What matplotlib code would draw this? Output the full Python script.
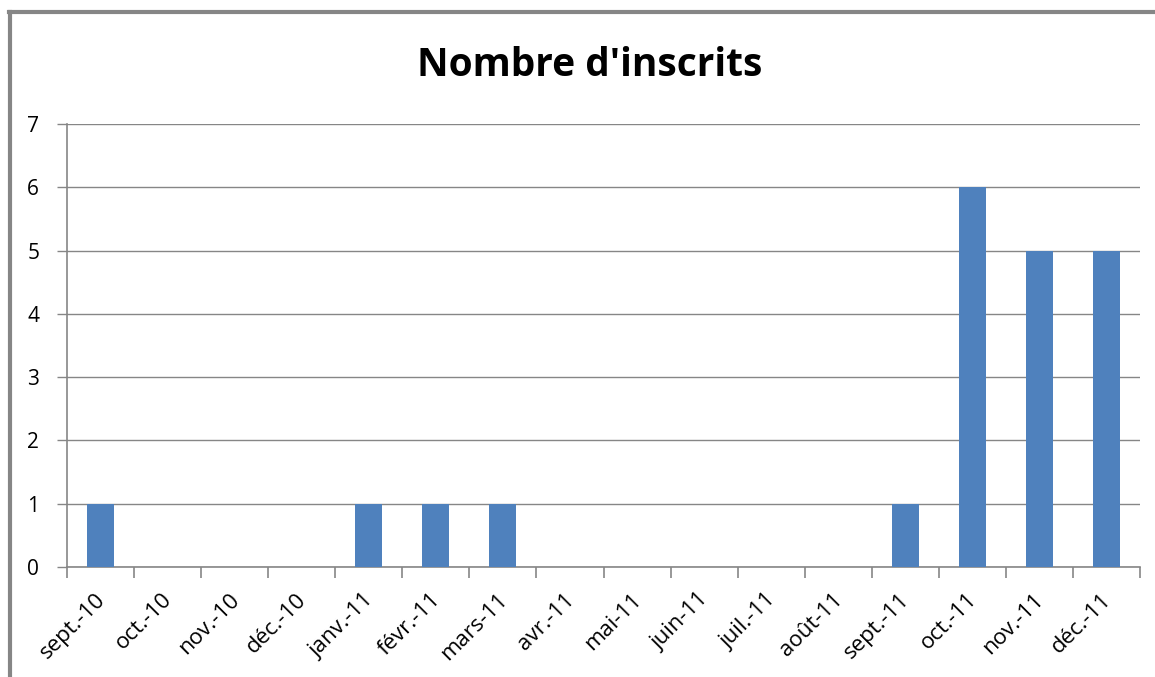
import matplotlib.pyplot as plt
import matplotlib.transforms as mtransforms
import numpy as np
from matplotlib.lines import Line2D

mois = ['sept.-10', 'oct.-10', 'nov.-10', 'déc.-10', 'janv.-11', 'févr.-11',
        'mars-11', 'avr.-11', 'mai-11', 'juin-11', 'juil.-11', 'août-11',
        'sept.-11', 'oct.-11', 'nov.-11', 'déc.-11']
inscrits = [1, 0, 0, 0, 1, 1, 1, 0, 0, 0, 0, 0, 1, 6, 5, 5]

gris = '#868686'
bleu = '#4F81BD'

fig = plt.figure(figsize=(11.55, 6.77), dpi=100)
ax = fig.add_axes([67/1155, 110/677, (1140-67)/1155, (567-124)/677])

x = np.arange(len(mois))
ax.bar(x, inscrits, width=0.4, color=bleu, zorder=3)

ax.set_xlim(-0.5, len(mois) - 0.5)
ax.set_ylim(0, 7)
ax.set_yticks(range(8))
ax.yaxis.grid(True, color=gris, linewidth=1, zorder=0)

# ticks x aux limites des catégories, comme Excel
ax.set_xticks(np.arange(-0.5, len(mois)), minor=False)
ax.set_xticklabels([])
ax.set_xticks(x, minor=True)
ax.set_xticklabels(mois, minor=True, rotation=45, ha='right',
                   rotation_mode='anchor', fontsize=16, family='Open Sans')
ax.tick_params(axis='x', which='major', length=8, color=gris, width=1.2)
ax.tick_params(axis='x', which='minor', length=0, pad=16)
ax.tick_params(axis='y', length=7, color=gris, width=1, labelsize=15, pad=13)
for lab in ax.get_yticklabels():
    lab.set_family('Open Sans')
decal = mtransforms.ScaledTranslation(-6/100, 0, fig.dpi_scale_trans)
for lab in ax.get_xticklabels(minor=True):
    lab.set_transform(lab.get_transform() + decal)

for s in ['top', 'right']:
    ax.spines[s].set_visible(False)
ax.spines['left'].set_color(gris)
ax.spines['bottom'].set_color(gris)
ax.spines['left'].set_linewidth(1.2)
ax.spines['bottom'].set_linewidth(1.2)

fig.text(590/1155, 1 - 65/677, "Nombre d'inscrits", ha='center', va='center',
         fontsize=28, fontweight='bold', family='Open Sans')

# cadre du graphique (gauche et haut)
fig.add_artist(Line2D([10/1155, 10/1155], [0, 1 - 12/677], transform=fig.transFigure,
                      color=gris, linewidth=3))
fig.add_artist(Line2D([8.5/1155, 1], [1 - 12/677, 1 - 12/677], transform=fig.transFigure,
                      color=gris, linewidth=3))

fig.savefig('out.png', dpi=100)
